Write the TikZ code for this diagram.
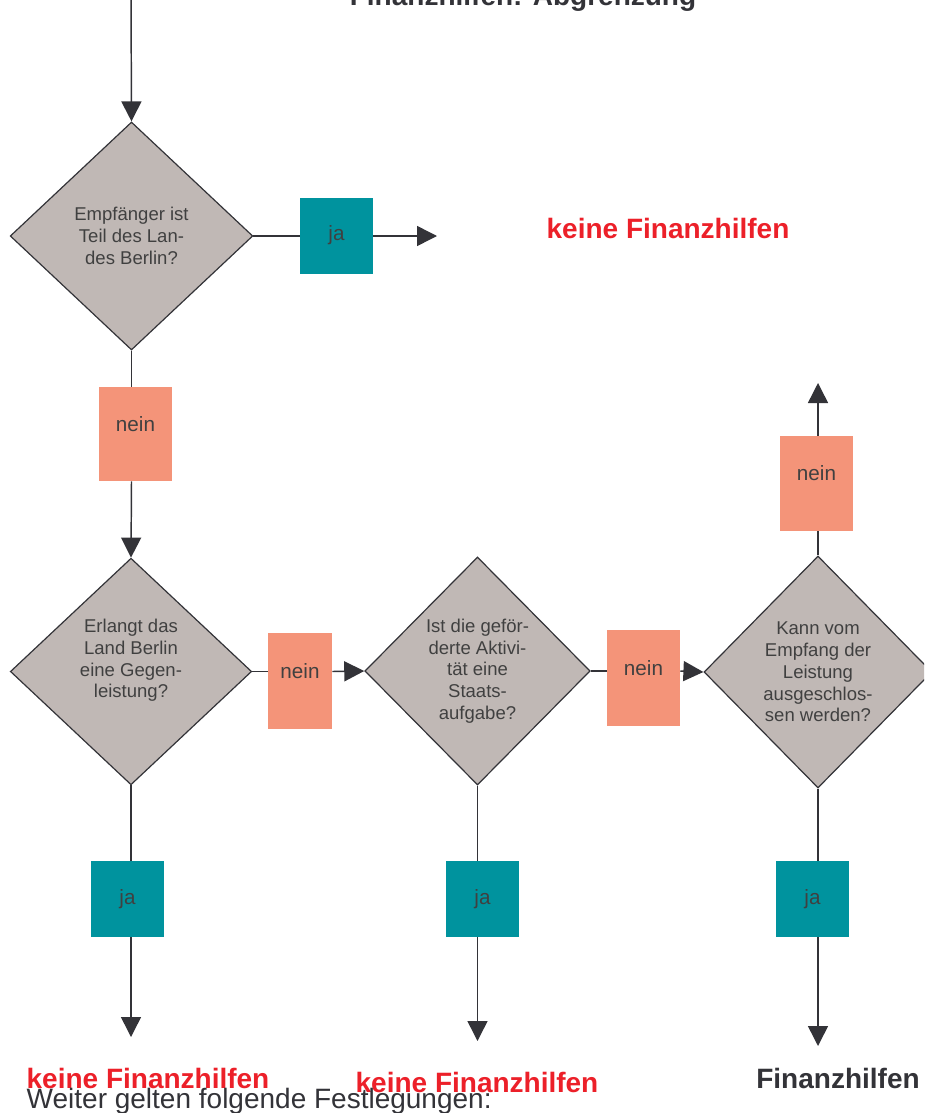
\documentclass[tikz,border=0pt]{standalone}
\usepackage{fontspec}
\setmainfont{Liberation Sans}
\usepackage{tikz}
\usetikzlibrary{shapes.geometric,arrows.meta}

\definecolor{quest}{HTML}{C0B8B5}
\definecolor{jacol}{HTML}{00939E}
\definecolor{neincol}{HTML}{F49479}
\definecolor{linecol}{HTML}{333338}
\definecolor{txtcol}{HTML}{404040}
\definecolor{keinecol}{HTML}{EC2029}

\begin{document}
\begin{tikzpicture}[x=0.75pt,y=-0.75pt,
    question/.style={diamond, draw=linecol, line width=0.9pt, fill=quest, inner sep=0pt,
        text=txtcol, align=center, font=\fontsize{13.9}{16.3}\selectfont},
    jabox/.style={rectangle, fill=jacol, inner sep=0pt, minimum width=54.75pt, minimum height=57pt,
        text=txtcol, font=\fontsize{15.5}{18}\selectfont},
    neinbox/.style={rectangle, fill=neincol, inner sep=0pt, minimum width=54.75pt, text depth=15pt,
        text=txtcol, font=\fontsize{15.5}{18}\selectfont},
    conn/.style={draw=linecol, line width=1.1pt},
    arr/.style={conn, -{Triangle[length=15pt,width=15pt]}},
    result/.style={anchor=base, font=\fontsize{21}{25}\selectfont\bfseries}]

    \clip (0,0) rectangle (924,1113);
    \useasboundingbox (0,0) rectangle (924,1113);

    %Title
    \node[result, text=linecol] (title) at (523, 6) {Finanzhilfen: Abgrenzung};

    %Questions
    \node[question, minimum width=182pt, minimum height=171pt] (d1) at (131.5, 236)
        {Empfänger ist\\Teil des Lan-\\des Berlin?};
    \node[question, minimum width=181pt, minimum height=170pt, text depth=19.5pt] (d2) at (131, 671.5)
        {Erlangt das\\Land Berlin\\eine Gegen-\\leistung?};
    \node[question, minimum width=169pt, minimum height=171pt] (d3) at (477.5, 671)
        {Ist die geför-\\derte Aktivi-\\tät eine\\Staats-\\aufgabe?};
    \node[question, minimum width=171pt, minimum height=174pt] (d4) at (818, 672)
        {Kann vom\\Empfang der\\Leistung\\ausgeschlos-\\sen werden?};

    %Answers
    \node[jabox] (ja1) at (336.5, 235.5) {ja};
    \node[jabox] (ja2) at (127.5, 899) {ja};
    \node[jabox] (ja3) at (482.5, 899) {ja};
    \node[jabox] (ja4) at (812.5, 899) {ja};
    \node[neinbox, minimum height=70.5pt] (n1) at (135.5, 434) {nein};
    \node[neinbox, minimum width=48pt, minimum height=72pt] (n2) at (300, 681) {nein};
    \node[neinbox, minimum height=72pt] (n3) at (643.5, 678) {nein};
    \node[neinbox, minimum height=71pt] (n4) at (816.5, 483.5) {nein};

    %Loose ends
    \coordinate (start) at (131, -5);
    \coordinate (end1) at (437, 236);
    \coordinate (end2) at (131, 1037);
    \coordinate (end3) at (477.5, 1041);
    \coordinate (end4) at (818, 1046);
    \coordinate (top4) at (818, 383);

    %Connectors
    \draw[arr] (start) -- (d1.north);
    \draw[conn] (d1.east) -- (d1.east -| ja1.west);
    \draw[arr] (d1.east -| ja1.east) -- (end1);
    \draw[conn] (d1.south) -- (d1.south |- n1.north);
    \draw[arr] (d1.south |- n1.south) -- (d2.north);
    \draw[conn] (d2.east) -- (d2.east -| n2.west);
    \draw[arr] (d2.east -| n2.east) -- (d3.west);
    \draw[conn] (d3.east) -- (d3.east -| n3.west);
    \draw[arr] (d3.east -| n3.east) -- (d4.west);
    \draw[conn] (d4.north) -- (d4.north |- n4.south);
    \draw[arr] (d4.north |- n4.north) -- (top4);
    \draw[conn] (d2.south) -- (d2.south |- ja2.north);
    \draw[arr] (d2.south |- ja2.south) -- (end2);
    \draw[conn] (d3.south) -- (d3.south |- ja3.north);
    \draw[arr] (d3.south |- ja3.south) -- (end3);
    \draw[conn] (d4.south) -- (d4.south |- ja4.north);
    \draw[arr] (d4.south |- ja4.south) -- (end4);

    %Results
    \node[result, text=keinecol] (r1) at (668, 238) {keine Finanzhilfen};
    \node[result, text=keinecol] (r2) at (148, 1088) {keine Finanzhilfen};
    \node[result, text=keinecol] (r3) at (477, 1092) {keine Finanzhilfen};
    \node[result, text=linecol] (r4) at (838, 1088) {Finanzhilfen};
    \node[anchor=base west, text=linecol, font=\fontsize{21}{25}\selectfont] (note) at (22, 1108)
        {Weiter gelten folgende Festlegungen:};

\end{tikzpicture}
\end{document}
